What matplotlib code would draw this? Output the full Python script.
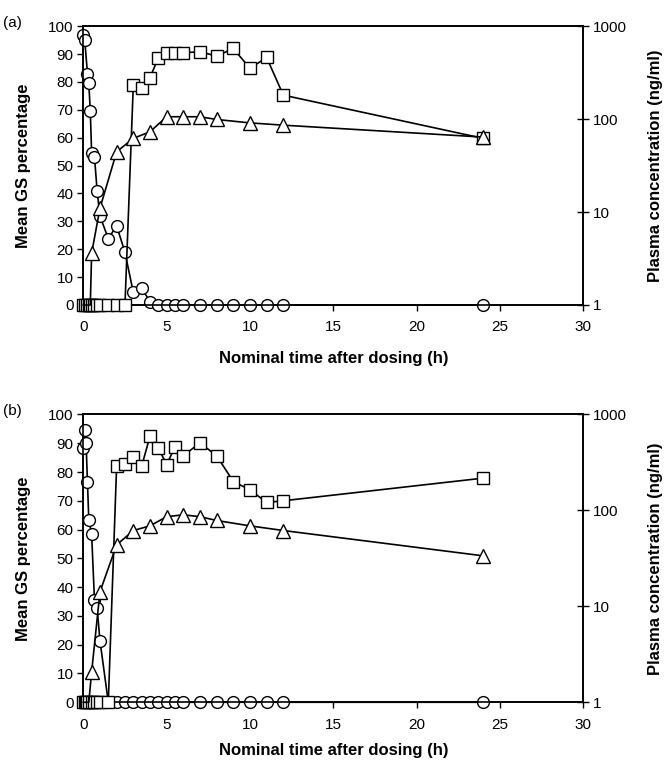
"""
Gastric secretion (GS) and plasma concentration time courses, two panels.
Circles: mean GS percentage (left axis).
Squares / triangles: plasma concentrations on a log axis (right axis).
"""

import matplotlib
matplotlib.use("Agg")
import matplotlib.pyplot as plt
from matplotlib.ticker import FixedLocator, FixedFormatter, NullLocator

plt.rcParams["font.family"] = ["Liberation Sans", "DejaVu Sans"]

# Panel (a)
gs_time_a = [0, 0.083, 0.25, 0.33, 0.42, 0.5, 0.67, 0.83, 1, 1.5, 2, 2.5, 3, 3.5,
             4, 4.5, 5, 5.5, 6, 7, 8, 9, 10, 11, 12, 24]
gs_a = [96.8, 95.2, 83, 79.5, 69.5, 54.4, 53.2, 40.9, 31.9, 23.8, 28.4, 18.9, 4.5, 6,
        1.2, 0, 0, 0, 0, 0, 0, 0, 0, 0, 0, 0]

sq_time_a = [0, 0.083, 0.25, 0.33, 0.42, 0.5, 0.67, 0.83, 1, 1.5, 2, 2.5, 3, 3.5,
             4, 4.5, 5, 5.5, 6, 7, 8, 9, 10, 11, 12, 24]
sq_a = [1, 1, 1, 1, 1, 1, 1, 1, 1, 1, 1, 1, 232, 217,
        278, 456, 508, 517, 517, 530, 476, 575, 351, 460, 181, 62]

tri_time_a = [0, 0.083, 0.25, 0.33, 0.42, 0.5, 1, 2, 3, 4, 5, 6, 7, 8, 10, 12, 24]
tri_a = [1, 1, 1, 1, 1, 3.6, 11, 44.5, 62, 73, 106, 106, 106, 99, 91, 86, 64]

# Panel (b)
gs_time_b = [0, 0.083, 0.167, 0.25, 0.33, 0.5, 0.67, 0.83, 1, 1.5, 2, 2.5, 3, 3.5,
             4, 4.5, 5, 5.5, 6, 7, 8, 9, 10, 11, 12, 24]
gs_b = [88.4, 94.5, 90.1, 76.4, 63.4, 58.4, 35.5, 32.6, 21.4, 0, 0, 0, 0, 0,
        0, 0, 0, 0, 0, 0, 0, 0, 0, 0, 0, 0]

sq_time_b = [0, 0.083, 0.167, 0.25, 0.33, 0.5, 0.67, 0.83, 1, 1.5, 2, 2.5, 3, 3.5,
             4, 4.5, 5, 5.5, 6, 7, 8, 9, 10, 11, 12, 24]
sq_b = [1, 1, 1, 1, 1, 1, 1, 1, 1, 1, 292, 305, 357, 288,
        592, 448, 300, 459, 372, 505, 372, 200, 164, 121, 126, 217]

tri_time_b = [0, 0.083, 0.167, 0.25, 0.33, 0.5, 1, 2, 3, 4, 5, 6, 7, 8, 10, 12, 24]
tri_b = [1, 1, 1, 1, 1, 2.07, 14.2, 43.7, 61.7, 69, 86, 90, 86, 78.5, 69, 61.7, 33.6]

gs_ticks = list(range(0, 101, 10))
conc_ticks = [1, 10, 100, 1000]
conc_tick_labels = ["1", "10", "100", "1000"]
time_ticks = [0, 5, 10, 15, 20, 25, 30]


def draw_panel(fig, rect, gs_t, gs, sq_t, sq, tri_t, tri, tag, xlabel_y):
    """
    Draws one panel: GS percentage on the left axis, concentrations on a log right axis.
    """
    ax = fig.add_axes(rect)
    line_kw = dict(color="black", linewidth=1.2, markerfacecolor="white",
                   markeredgecolor="black", markeredgewidth=1.0, clip_on=False)

    ax.plot(gs_t, gs, marker="o", markersize=8.5, zorder=3, **line_kw)

    ax.set_xlim(0, 30)
    ax.set_ylim(0, 100)
    ax.set_xticks(time_ticks)
    ax.set_yticks(gs_ticks)
    ax.tick_params(axis="both", labelsize=11, width=1.0, length=4, direction="out")
    ax.tick_params(axis="y", pad=3)
    ax.tick_params(axis="x", pad=7)
    for sp in ax.spines.values():
        sp.set_linewidth(1.2)

    ax.set_ylabel("Mean GS percentage", fontsize=12, fontweight="bold")
    ax.set_xlabel("Nominal time after dosing (h)", fontsize=12, fontweight="bold")
    ax.yaxis.set_label_coords(-0.105, 0.5)
    ax.xaxis.set_label_coords(0.5, xlabel_y)

    ax2 = ax.twinx()
    ax2.plot(sq_t, sq, marker="s", markersize=8, zorder=4, **line_kw)
    # below-LOQ triangles sit under the squares, only the line shows there
    first_mark = next(i for i, v in enumerate(tri) if v > 1)
    ax2.plot(tri_t, tri, marker="^", markersize=10, zorder=5,
             markevery=list(range(first_mark, len(tri))), **line_kw)
    ax2.set_yscale("log")
    ax2.set_ylim(1, 1000)
    ax2.yaxis.set_major_locator(FixedLocator(conc_ticks))
    ax2.yaxis.set_major_formatter(FixedFormatter(conc_tick_labels))
    ax2.yaxis.set_minor_locator(NullLocator())
    ax2.tick_params(axis="y", labelsize=11, width=1.0, length=8, direction="inout", pad=3)
    for sp in ax2.spines.values():
        sp.set_linewidth(1.2)
    ax2.set_ylabel("Plasma concentration (ng/ml)", fontsize=12, fontweight="bold")
    ax2.yaxis.set_label_coords(1.13, 0.5)

    # panel tag next to the top tick label
    top_y = rect[1] + rect[3]
    fig.text(0.004, top_y + 0.004, tag, fontsize=11, va="center", ha="left")
    return ax, ax2


if __name__ == "__main__":
    fig = plt.figure(figsize=(6.68, 7.64), dpi=100)

    draw_panel(fig, [0.1247, 0.6008, 0.7485, 0.365],
               gs_time_a, gs_a, sq_time_a, sq_a, tri_time_a, tri_a, "(a)", -0.165)
    draw_panel(fig, [0.1247, 0.0808, 0.7485, 0.3767],
               gs_time_b, gs_b, sq_time_b, sq_b, tri_time_b, tri_b, "(b)", -0.14)

    fig.savefig("out.png", dpi=100)
    plt.close(fig)
